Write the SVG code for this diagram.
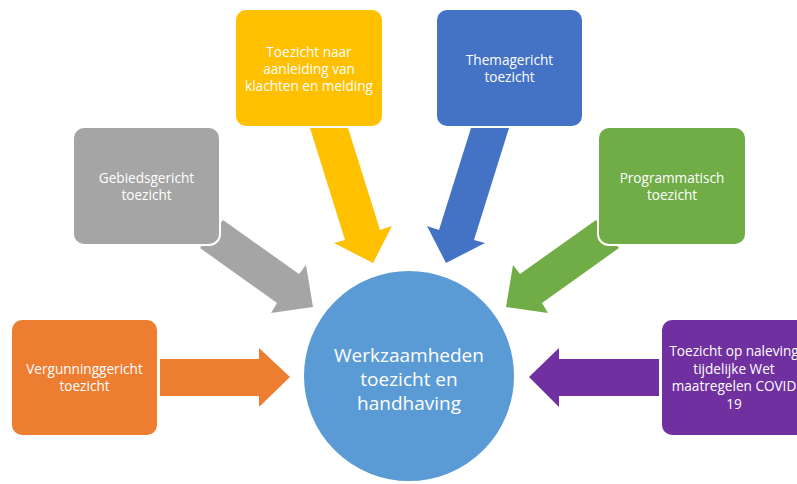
<svg xmlns="http://www.w3.org/2000/svg" width="797" height="484" viewBox="0 0 797 484">
<style>
.box{stroke:#ffffff;stroke-width:2}
.t{font-family:"Open Sans","Liberation Sans",sans-serif;font-size:13.6px;fill:#ffffff;text-anchor:middle}
.c{font-family:"Open Sans","Liberation Sans",sans-serif;font-size:19px;fill:#ffffff;text-anchor:middle}
</style>
<rect width="797" height="484" fill="#ffffff"/>
<g id="connectors">
<polygon fill="#A5A5A5" points="223,220 299,274 306,265 313,307 271,313 277,303 200,248"/>
<polygon fill="#70AD47" points="596,220 520,274 513,265 506,307 548,313 542,303 619,248"/>
<polygon fill="#FFC000" points="310,128 348,128 380,230 392,226 373,263 334,243 345,240"/>
<polygon fill="#4472C4" points="509,128 471,128 439,230 427,226 446,263 485,243 474,240"/>
<polygon fill="#ED7D31" points="160,359 259,359 259,348 290,377 259,407 259,396 160,396"/>
<polygon fill="#7030A0" points="659,359 559,359 559,348 529,377 559,407 559,396 659,396"/>
</g>
<g id="center">
<circle cx="409" cy="376" r="106" fill="#5B9BD5" stroke="#ffffff" stroke-width="2"/>
<text class="c" x="409" y="362">Werkzaamheden</text>
<text class="c" x="409" y="386">toezicht en</text>
<text class="c" x="409" y="410">handhaving</text>
</g>
<g id="yellow">
<rect class="box" x="235" y="9" width="148" height="118" rx="11" fill="#FFC000"/>
<text class="t" x="309" y="57">Toezicht naar</text>
<text class="t" x="309" y="74">aanleiding van</text>
<text class="t" x="309" y="91">klachten en melding</text>
</g>
<g id="blue">
<rect class="box" x="436" y="9" width="147" height="118" rx="11" fill="#4472C4"/>
<text class="t" x="509.5" y="65">Themagericht</text>
<text class="t" x="509.5" y="82">toezicht</text>
</g>
<g id="gray">
<rect class="box" x="73" y="127" width="147" height="118" rx="11" fill="#A5A5A5"/>
<text class="t" x="146.5" y="183">Gebiedsgericht</text>
<text class="t" x="146.5" y="200">toezicht</text>
</g>
<g id="green">
<rect class="box" x="598" y="127" width="148" height="118" rx="11" fill="#70AD47"/>
<text class="t" x="672" y="183">Programmatisch</text>
<text class="t" x="672" y="200">toezicht</text>
</g>
<g id="orange">
<rect class="box" x="11" y="319" width="147" height="117" rx="11" fill="#ED7D31"/>
<text class="t" x="84.5" y="374">Vergunninggericht</text>
<text class="t" x="84.5" y="391">toezicht</text>
</g>
<g id="purple">
<rect class="box" x="661" y="319" width="147" height="117" rx="11" fill="#7030A0"/>
<text class="t" x="734" y="356">Toezicht op naleving</text>
<text class="t" x="734" y="374">tijdelijke Wet</text>
<text class="t" x="734" y="391">maatregelen COVID</text>
<text class="t" x="734" y="409">19</text>
</g>
</svg>
